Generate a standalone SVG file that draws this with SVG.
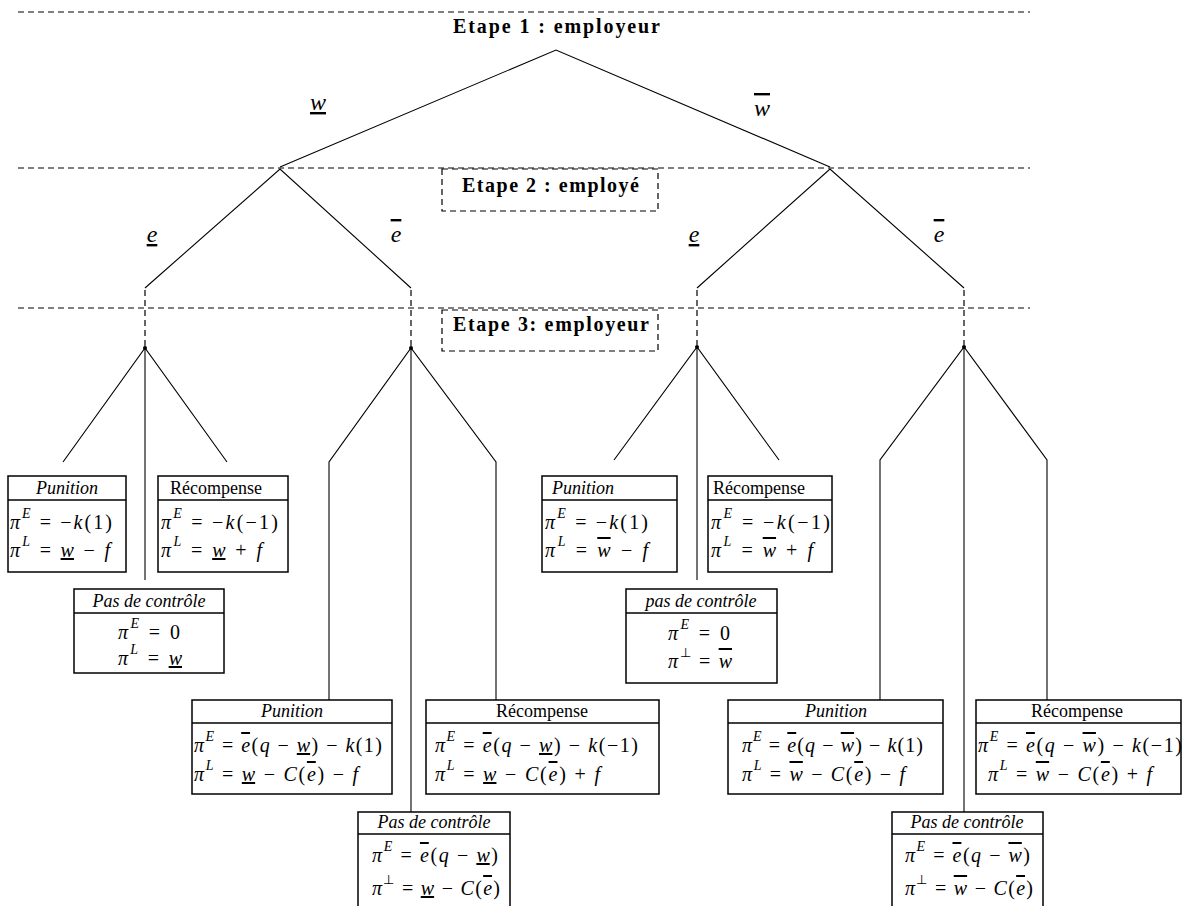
<svg xmlns="http://www.w3.org/2000/svg" width="1184" height="906" viewBox="0 0 1184 906">
<style>
.dash{stroke:#000;stroke-width:1.2;stroke-dasharray:6 4;fill:none}
.ln{stroke:#000;stroke-width:1.1;fill:none}
.bx{fill:#fff;stroke:#000;stroke-width:1.5}
.sep{stroke:#000;stroke-width:1.5}
.t{font-family:"Liberation Serif","Times New Roman",serif;font-size:20px;fill:#000}
.h{font-family:"Liberation Serif","Times New Roman",serif;font-size:18px;fill:#000}
.i{font-style:italic}
.sup{font-size:14px;font-style:italic}
.sup2{font-size:13px}
.ttl{font-family:"Liberation Serif","Times New Roman",serif;font-weight:bold;font-size:20px;fill:#000}
.lbl{font-family:"Liberation Serif","Times New Roman",serif;font-style:italic;font-size:24px;fill:#000}
.ul{text-decoration:underline}
.ol{text-decoration:overline}
</style>
<rect width="1184" height="906" fill="#fff"/>
<g id="stages">
<line class="dash" x1="18" y1="12" x2="1030" y2="12"/>
<line class="dash" x1="18" y1="168" x2="1030" y2="168"/>
<line class="dash" x1="18" y1="308" x2="1030" y2="308"/>
<rect class="dash" x="442" y="169" width="216" height="42"/>
<rect class="dash" x="442" y="310" width="216" height="41"/>
<text class="ttl" x="453" y="33" textLength="207" lengthAdjust="spacing">Etape 1 : employeur</text>
<text class="ttl" x="462" y="192" textLength="177" lengthAdjust="spacing">Etape 2 : employé</text>
<text class="ttl" x="453" y="331" textLength="196" lengthAdjust="spacing">Etape 3: employeur</text>
</g>
<g id="connectors">
<polyline class="ln" points="280,167 556,50 830,167"/>
<polyline class="ln" points="145,288 280,169 411,288"/>
<polyline class="ln" points="697,288 830,169 964,288"/>
<line class="dash" x1="145" y1="290" x2="145" y2="346"/>
<line class="dash" x1="411" y1="290" x2="411" y2="346"/>
<line class="dash" x1="697" y1="290" x2="697" y2="345"/>
<line class="dash" x1="964" y1="290" x2="964" y2="345"/>
<polyline class="ln" points="63,462 145,348 227,462"/>
<line class="ln" x1="145" y1="348" x2="145" y2="580"/>
<polyline class="ln" points="329,700 329,462 411,348 496,462 496,700"/>
<line class="ln" x1="411" y1="348" x2="411" y2="812"/>
<polyline class="ln" points="614,460 697,347 779,460"/>
<line class="ln" x1="697" y1="347" x2="697" y2="580"/>
<polyline class="ln" points="880,700 880,460 964,347 1047,460 1047,700"/>
<line class="ln" x1="964" y1="347" x2="964" y2="812"/>
<circle cx="145" cy="348" r="2"/>
<circle cx="411" cy="348" r="2"/>
<circle cx="697" cy="347" r="2"/>
<circle cx="964" cy="347" r="2"/>
</g>
<g id="labels">
<text class="lbl ul" x="318" y="110" text-anchor="middle">w</text>
<text class="lbl ol" x="762" y="116" text-anchor="middle">w</text>
<text class="lbl ul" x="152" y="242" text-anchor="middle">e</text>
<text class="lbl ol" x="396" y="242" text-anchor="middle">e</text>
<text class="lbl ul" x="694" y="242" text-anchor="middle">e</text>
<text class="lbl ol" x="939" y="242" text-anchor="middle">e</text>
</g>
<g id="A-punition">
<rect class="bx" x="8" y="476" width="118" height="96"/><line class="sep" x1="8" y1="500" x2="126" y2="500"/>
<text class="h i" x="67" y="494" text-anchor="middle">Punition</text>
<text class="t" x="10" y="529" textLength="102" lengthAdjust="spacing"><tspan class="i">π</tspan><tspan class="sup" dy="-11">E</tspan><tspan dy="11"> = −</tspan><tspan class="i">k</tspan>(1)</text>
<text class="t" x="10" y="557" textLength="100" lengthAdjust="spacing"><tspan class="i">π</tspan><tspan class="sup" dy="-11">L</tspan><tspan dy="11"> = </tspan><tspan class="i ul">w</tspan> − <tspan class="i">f</tspan></text>
</g>
<g id="A-recompense">
<rect class="bx" x="158" y="476" width="130" height="96"/><line class="sep" x1="158" y1="500" x2="288" y2="500"/>
<text class="h" x="216" y="494" text-anchor="middle">Récompense</text>
<text class="t" x="161" y="529" textLength="117" lengthAdjust="spacing"><tspan class="i">π</tspan><tspan class="sup" dy="-11">E</tspan><tspan dy="11"> = −</tspan><tspan class="i">k</tspan>(−1)</text>
<text class="t" x="161" y="557" textLength="101" lengthAdjust="spacing"><tspan class="i">π</tspan><tspan class="sup" dy="-11">L</tspan><tspan dy="11"> = </tspan><tspan class="i ul">w</tspan> + <tspan class="i">f</tspan></text>
</g>
<g id="A-pas">
<rect class="bx" x="74" y="589" width="150" height="84"/><line class="sep" x1="74" y1="613" x2="224" y2="613"/>
<text class="h i" x="149" y="607" text-anchor="middle">Pas de contrôle</text>
<text class="t" x="118" y="639" textLength="62" lengthAdjust="spacing"><tspan class="i">π</tspan><tspan class="sup" dy="-11">E</tspan><tspan dy="11"> = 0</tspan></text>
<text class="t" x="118" y="665" textLength="64" lengthAdjust="spacing"><tspan class="i">π</tspan><tspan class="sup" dy="-11">L</tspan><tspan dy="11"> = </tspan><tspan class="i ul">w</tspan></text>
</g>
<g id="B-punition">
<rect class="bx" x="192" y="700" width="200" height="94"/><line class="sep" x1="192" y1="723" x2="392" y2="723"/>
<text class="h i" x="292" y="717" text-anchor="middle">Punition</text>
<text class="t" x="194" y="752" textLength="188" lengthAdjust="spacing"><tspan class="i">π</tspan><tspan class="sup" dy="-11">E</tspan><tspan dy="11"> = </tspan><tspan class="i ol">e</tspan>(<tspan class="i">q</tspan> − <tspan class="i ul">w</tspan>) − <tspan class="i">k</tspan>(1)</text>
<text class="t" x="194" y="781" textLength="164" lengthAdjust="spacing"><tspan class="i">π</tspan><tspan class="sup" dy="-11">L</tspan><tspan dy="11"> = </tspan><tspan class="i ul">w</tspan> − <tspan class="i">C</tspan>(<tspan class="i ol">e</tspan>) − <tspan class="i">f</tspan></text>
</g>
<g id="B-recompense">
<rect class="bx" x="426" y="700" width="233" height="94"/><line class="sep" x1="426" y1="723" x2="659" y2="723"/>
<text class="h" x="542" y="717" text-anchor="middle">Récompense</text>
<text class="t" x="435" y="752" textLength="203" lengthAdjust="spacing"><tspan class="i">π</tspan><tspan class="sup" dy="-11">E</tspan><tspan dy="11"> = </tspan><tspan class="i ol">e</tspan>(<tspan class="i">q</tspan> − <tspan class="i ul">w</tspan>) − <tspan class="i">k</tspan>(−1)</text>
<text class="t" x="435" y="781" textLength="165" lengthAdjust="spacing"><tspan class="i">π</tspan><tspan class="sup" dy="-11">L</tspan><tspan dy="11"> = </tspan><tspan class="i ul">w</tspan> − <tspan class="i">C</tspan>(<tspan class="i ol">e</tspan>) + <tspan class="i">f</tspan></text>
</g>
<g id="B-pas">
<rect class="bx" x="358" y="812" width="152" height="110"/><line class="sep" x1="358" y1="834" x2="510" y2="834"/>
<text class="h i" x="434" y="828" text-anchor="middle">Pas de contrôle</text>
<text class="t" x="372" y="862" textLength="126" lengthAdjust="spacing"><tspan class="i">π</tspan><tspan class="sup" dy="-11">E</tspan><tspan dy="11"> = </tspan><tspan class="i ol">e</tspan>(<tspan class="i">q</tspan> − <tspan class="i ul">w</tspan>)</text>
<text class="t" x="372" y="895" textLength="128" lengthAdjust="spacing"><tspan class="i">π</tspan><tspan class="sup2" dy="-11">⊥</tspan><tspan dy="11"> = </tspan><tspan class="i ul">w</tspan> − <tspan class="i">C</tspan>(<tspan class="i ol">e</tspan>)</text>
</g>
<g id="C-punition">
<rect class="bx" x="542" y="476" width="135" height="96"/><line class="sep" x1="542" y1="500" x2="677" y2="500"/>
<text class="h i" x="552" y="494">Punition</text>
<text class="t" x="545" y="529" textLength="103" lengthAdjust="spacing"><tspan class="i">π</tspan><tspan class="sup" dy="-11">E</tspan><tspan dy="11"> = −</tspan><tspan class="i">k</tspan>(1)</text>
<text class="t" x="545" y="557" textLength="103" lengthAdjust="spacing"><tspan class="i">π</tspan><tspan class="sup" dy="-11">L</tspan><tspan dy="11"> = </tspan><tspan class="i ol">w</tspan> − <tspan class="i">f</tspan></text>
</g>
<g id="C-recompense">
<rect class="bx" x="708" y="476" width="124" height="96"/><line class="sep" x1="708" y1="500" x2="832" y2="500"/>
<text class="h" x="713" y="494">Récompense</text>
<text class="t" x="711" y="529" textLength="119" lengthAdjust="spacing"><tspan class="i">π</tspan><tspan class="sup" dy="-11">E</tspan><tspan dy="11"> = −</tspan><tspan class="i">k</tspan>(−1)</text>
<text class="t" x="711" y="557" textLength="102" lengthAdjust="spacing"><tspan class="i">π</tspan><tspan class="sup" dy="-11">L</tspan><tspan dy="11"> = </tspan><tspan class="i ol">w</tspan> + <tspan class="i">f</tspan></text>
</g>
<g id="C-pas">
<rect class="bx" x="626" y="589" width="151" height="94"/><line class="sep" x1="626" y1="613" x2="777" y2="613"/>
<text class="h i" x="701" y="607" text-anchor="middle">pas de contrôle</text>
<text class="t" x="668" y="640" textLength="62" lengthAdjust="spacing"><tspan class="i">π</tspan><tspan class="sup" dy="-11">E</tspan><tspan dy="11"> = 0</tspan></text>
<text class="t" x="668" y="668" textLength="64" lengthAdjust="spacing"><tspan class="i">π</tspan><tspan class="sup2" dy="-11">⊥</tspan><tspan dy="11"> = </tspan><tspan class="i ol">w</tspan></text>
</g>
<g id="D-punition">
<rect class="bx" x="728" y="700" width="215" height="94"/><line class="sep" x1="728" y1="723" x2="943" y2="723"/>
<text class="h i" x="836" y="717" text-anchor="middle">Punition</text>
<text class="t" x="742" y="752" textLength="181" lengthAdjust="spacing"><tspan class="i">π</tspan><tspan class="sup" dy="-11">E</tspan><tspan dy="11"> = </tspan><tspan class="i ol">e</tspan>(<tspan class="i">q</tspan> − <tspan class="i ol">w</tspan>) − <tspan class="i">k</tspan>(1)</text>
<text class="t" x="742" y="781" textLength="163" lengthAdjust="spacing"><tspan class="i">π</tspan><tspan class="sup" dy="-11">L</tspan><tspan dy="11"> = </tspan><tspan class="i ol">w</tspan> − <tspan class="i">C</tspan>(<tspan class="i ol">e</tspan>) − <tspan class="i">f</tspan></text>
</g>
<g id="D-recompense">
<rect class="bx" x="976" y="700" width="205" height="94"/><line class="sep" x1="976" y1="723" x2="1181" y2="723"/>
<text class="h" x="1077" y="717" text-anchor="middle">Récompense</text>
<text class="t" x="978" y="752" textLength="204" lengthAdjust="spacing"><tspan class="i">π</tspan><tspan class="sup" dy="-11">E</tspan><tspan dy="11"> = </tspan><tspan class="i ol">e</tspan>(<tspan class="i">q</tspan> − <tspan class="i ol">w</tspan>) − <tspan class="i">k</tspan>(−1)</text>
<text class="t" x="988" y="781" textLength="164" lengthAdjust="spacing"><tspan class="i">π</tspan><tspan class="sup" dy="-11">L</tspan><tspan dy="11"> = </tspan><tspan class="i ol">w</tspan> − <tspan class="i">C</tspan>(<tspan class="i ol">e</tspan>) + <tspan class="i">f</tspan></text>
</g>
<g id="D-pas">
<rect class="bx" x="892" y="812" width="151" height="110"/><line class="sep" x1="892" y1="834" x2="1043" y2="834"/>
<text class="h i" x="967" y="828" text-anchor="middle">Pas de contrôle</text>
<text class="t" x="905" y="862" textLength="125" lengthAdjust="spacing"><tspan class="i">π</tspan><tspan class="sup" dy="-11">E</tspan><tspan dy="11"> = </tspan><tspan class="i ol">e</tspan>(<tspan class="i">q</tspan> − <tspan class="i ol">w</tspan>)</text>
<text class="t" x="905" y="895" textLength="128" lengthAdjust="spacing"><tspan class="i">π</tspan><tspan class="sup2" dy="-11">⊥</tspan><tspan dy="11"> = </tspan><tspan class="i ol">w</tspan> − <tspan class="i">C</tspan>(<tspan class="i ol">e</tspan>)</text>
</g>
</svg>
